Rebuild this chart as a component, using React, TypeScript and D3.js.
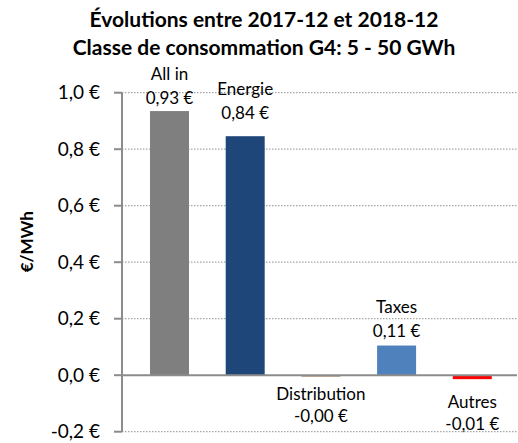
import React from "react";
import * as d3 from "d3";

const categories = ["All in", "Energie", "Distribution", "Taxes", "Autres"];
const values = [0.935, 0.846, -0.001, 0.105, -0.014];
const valueLabels = ["0,93 €", "0,84 €", "-0,00 €", "0,11 €", "-0,01 €"];
const colors = ["#7f7f7f", "#1f4679", "#a98b6c", "#4f81bd", "#ff0000"];
const yTicks = [-0.2, 0, 0.2, 0.4, 0.6, 0.8, 1.0];
// extra label gap (px) per category as placed in the original
const labelGap = [7, 17, 0, 8.5, 0];

const W = 518;
const H = 443;
const FONT = "Lato, 'Open Sans', sans-serif";

export default function App() {
  const x = d3
    .scaleBand<string>()
    .domain(categories)
    .range([131.65, 510.15])
    .paddingInner(0.485)
    .paddingOuter(0.2425);
  const y = d3.scaleLinear().domain([-0.2, 1.0]).range([431.7, 92.7]);
  const axisX = 122;
  const gridRight = 517;
  const fmt = (v: number) => v.toFixed(1).replace(".", ",") + " €";

  return (
    <svg
      width={W}
      height={H}
      style={{ position: "absolute", left: 0, top: 0, background: "#fff" }}
      fontFamily={FONT}
    >
      <text x={264} y={27} textAnchor="middle" fontWeight="bold" fontSize={21} fill="#000">
        Évolutions entre 2017-12 et 2018-12
      </text>
      <text x={264} y={55} textAnchor="middle" fontWeight="bold" fontSize={21} fill="#000">
        Classe de consommation G4: 5 - 50 GWh
      </text>

      {yTicks.map((t) =>
        t === 0 ? null : (
          <line
            key={"g" + t}
            x1={axisX}
            x2={gridRight}
            y1={y(t)}
            y2={y(t)}
            stroke="#a6a6a6"
            strokeWidth={1.3}
            strokeDasharray="1.5,1.5"
          />
        )
      )}

      {categories.map((c, i) => {
        const v = values[i];
        const y0 = y(0);
        const y1 = y(v);
        return (
          <rect
            key={c}
            x={x(c)}
            width={x.bandwidth()}
            y={Math.min(y0, y1)}
            height={Math.max(Math.abs(y1 - y0), 1.5)}
            fill={colors[i]}
          />
        );
      })}

      <line x1={axisX} x2={gridRight} y1={y(0)} y2={y(0)} stroke="#8c8c8c" strokeWidth={2} />
      <line x1={axisX} x2={axisX} y1={y(1.0)} y2={y(-0.2)} stroke="#8c8c8c" strokeWidth={2} />
      {yTicks.map((t) => (
        <g key={"t" + t}>
          <line x1={114} x2={axisX} y1={y(t)} y2={y(t)} stroke="#8c8c8c" strokeWidth={2} />
          <text x={100} y={y(t) + 6.5} textAnchor="end" fontSize={19} fill="#000">
            {fmt(t)}
          </text>
        </g>
      ))}

      <text
        transform={`translate(33,${241.7}) rotate(-90)`}
        textAnchor="middle"
        fontWeight="bold"
        fontSize={17}
        fill="#000"
      >
        €/MWh
      </text>

      {categories.map((c, i) => {
        const v = values[i];
        const cx = (x(c) as number) + x.bandwidth() / 2;
        if (v >= 0) {
          const base = y(v) - labelGap[i];
          return (
            <g key={"l" + c} fontSize={17} textAnchor="middle" fill="#000">
              <text x={cx} y={base - 24}>{c}</text>
              <text x={cx} y={base}>{valueLabels[i]}</text>
            </g>
          );
        }
        const top = y(0) + (i === 2 ? 25 : 33);
        return (
          <g key={"l" + c} fontSize={17} textAnchor="middle" fill="#000">
            <text x={cx} y={top}>{c}</text>
            <text x={cx} y={top + 22}>{valueLabels[i]}</text>
          </g>
        );
      })}
    </svg>
  );
}
